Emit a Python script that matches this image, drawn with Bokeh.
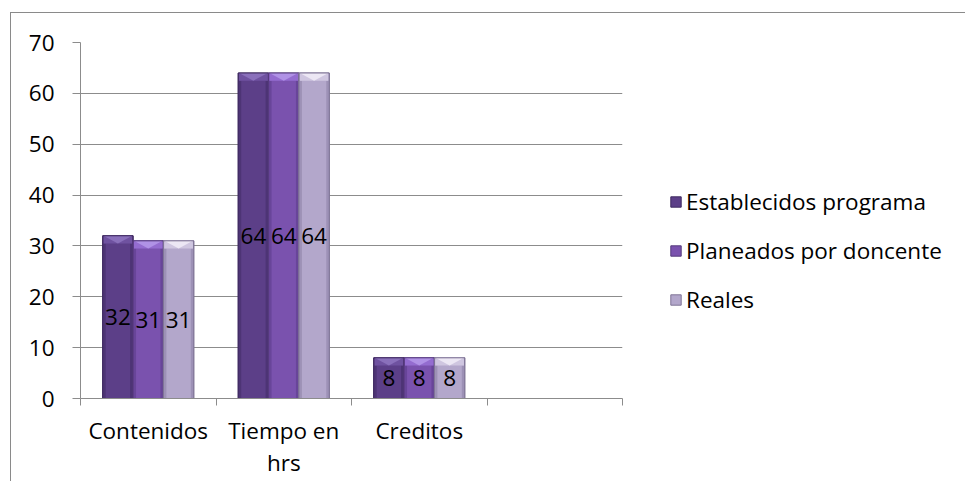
from bokeh.plotting import figure
from bokeh.models import FixedTicker, Legend, LegendItem, ColumnDataSource
from bokeh.embed import file_html
from bokeh.resources import INLINE
from bokeh.core.properties import value

categories = ["Contenidos", "Tiempo en\nhrs", "Creditos", ""]
series_names = ["Establecidos programa", "Planeados por doncente", "Reales"]
establecidos = [32, 64, 8]
planeados = [31, 64, 8]
reales = [31, 64, 8]
y_ticks = [0, 10, 20, 30, 40, 50, 60, 70]

series_values = [establecidos, planeados, reales]
body_colors = ["#5c3f88", "#7a52ae", "#b3a7cb"]
edge_colors = ["#3f2a60", "#553a7c", "#7f7496"]
side_colors = ["#4d3475", "#684599", "#9d91b6"]
band_colors = ["#6f52a0", "#946cd0", "#cfc6e0"]
tri_colors = ["#8a70bb", "#b092e6", "#ece7f4"]

FONT = "Open Sans"
FS = "22.5px"
GRID = "#8c8c8c"
BORDER = "#8a8a8a"

p = figure(frame_width=542, frame_height=356, output_backend="svg", toolbar_location=None,
           x_range=(0, len(categories)), y_range=(0, 70),
           min_border_left=80, min_border_right=335, min_border_top=42, min_border_bottom=81)
p.outline_line_color = None
p.background_fill_color = "white"
p.border_fill_color = None
p.styles = {
    "background": (f"linear-gradient({BORDER},{BORDER}) 10px 12px / 1px 100% no-repeat, "
                   f"linear-gradient({BORDER},{BORDER}) 10px 12px / 100% 1px no-repeat, white"),
}

bw = 0.224
bev = 1.5
side = 0.022
items = []
for k, (name, vals) in enumerate(zip(series_names, series_values)):
    xs = [i + 0.5 + (k - 1) * bw for i in range(len(vals))]
    src = ColumnDataSource(dict(x=xs, top=vals, mid=[v / 2 for v in vals],
                                lab=[str(v) for v in vals],
                                band=[v - bev for v in vals],
                                xl=[x - bw / 2 + side / 2 for x in xs],
                                xr=[x + bw / 2 - side / 2 for x in xs]))
    r = p.vbar(x="x", top="top", bottom=0, width=bw, source=src,
               fill_color=body_colors[k], line_color=edge_colors[k], line_width=1)
    p.vbar(x="xl", top="band", bottom=0, width=side, source=src,
           fill_color=side_colors[k], line_color=None)
    p.vbar(x="xr", top="band", bottom=0, width=side, source=src,
           fill_color=side_colors[k], line_color=None)
    p.vbar(x="x", top="top", bottom="band", width=bw - 0.012, source=src,
           fill_color=band_colors[k], line_color=None)
    tri_x = [[x - bw / 2 + 0.006, x + bw / 2 - 0.006, x] for x in xs]
    tri_y = [[v, v, v - bev] for v in vals]
    p.patches(xs=tri_x, ys=tri_y, fill_color=tri_colors[k], line_color=None)
    p.vbar(x="x", top="top", bottom=0, width=bw, source=src,
           fill_color=None, line_color=edge_colors[k], line_width=1)
    p.text(x="x", y="mid", text="lab", source=src, text_align="center",
           text_baseline="middle", text_font=value(FONT), text_font_size=FS,
           text_color="black")
    items.append(LegendItem(label=name, renderers=[r]))

# Y axis
p.yaxis.ticker = FixedTicker(ticks=y_ticks)
p.yaxis.axis_line_color = GRID
p.yaxis.major_tick_line_color = GRID
p.yaxis.major_tick_out = 8
p.yaxis.major_tick_in = 0
p.yaxis.minor_tick_line_color = None
p.yaxis.major_label_standoff = 18
p.yaxis.major_label_text_font = FONT
p.yaxis.major_label_text_font_size = FS
p.yaxis.major_label_text_color = "black"

# X axis: labels at centres, ticks at category boundaries
centers = [i + 0.5 for i in range(len(categories))]
bounds = [i for i in range(len(categories) + 1)]
p.xaxis.ticker = FixedTicker(ticks=centers, minor_ticks=bounds)
p.xaxis.major_label_overrides = {c: lab for c, lab in zip(centers, categories)}
p.xaxis.axis_line_color = GRID
p.xaxis.major_tick_line_color = None
p.xaxis.major_tick_out = 0
p.xaxis.major_tick_in = 0
p.xaxis.minor_tick_line_color = GRID
p.xaxis.minor_tick_out = 7
p.xaxis.minor_tick_in = 0
p.xaxis.major_label_standoff = 9
p.xaxis.major_label_text_font = FONT
p.xaxis.major_label_text_font_size = FS
p.xaxis.major_label_text_color = "black"
p.xaxis.major_label_text_line_height = 1.05

p.xgrid.grid_line_color = None
p.ygrid.grid_line_color = GRID
p.ygrid.grid_line_width = 1

legend = Legend(items=items, location=(47, 83), orientation="vertical",
                glyph_width=13, glyph_height=13, label_standoff=4,
                label_height=20, spacing=18, padding=0, margin=0,
                border_line_color=None, background_fill_alpha=0,
                label_text_font=FONT, label_text_font_size=FS,
                label_text_color="black", label_text_baseline="middle")
p.add_layout(legend, "right")

open("out.html", "w").write(file_html(p, INLINE))
